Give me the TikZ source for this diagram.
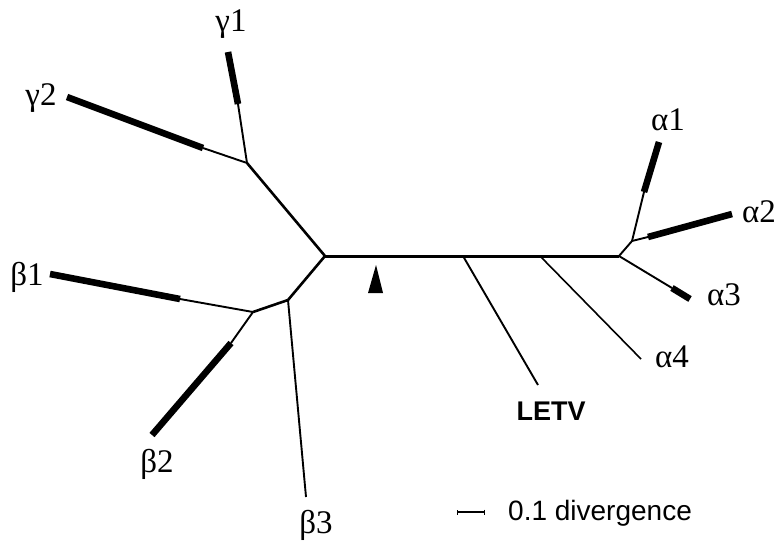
\documentclass[tikz,border=0pt]{standalone}
\usepackage{fontspec}
\setmainfont{Liberation Serif}
\setsansfont{Liberation Sans}
\usetikzlibrary{arrows.meta,positioning}
\tikzset{
  thinbr/.style={line width=1.9pt, line join=round},
  midbr/.style={line width=2.6pt, line join=round},
  mainbr/.style={line width=3pt},
  thickbr/.style={line width=6.6pt},
  taxon/.style={font=\fontsize{33}{33}\selectfont, inner sep=0pt, anchor=base},
  virus/.style={font=\sffamily\bfseries\fontsize{27}{27}\selectfont, inner sep=0pt, anchor=base},
  legendtext/.style={font=\sffamily\fontsize{28}{28}\selectfont, inner sep=0pt, anchor=base west},
  legendbar/.style={{Bar[width=5pt,line width=1pt]}-{Bar[width=5pt,line width=1pt]}, line width=2.6pt}
}
\begin{document}
\begin{tikzpicture}[x=1pt,y=-1pt]
  \useasboundingbox (0,0) rectangle (778,542);
  % inner nodes
  \coordinate (lnode) at (325,256);
  \coordinate (rnode) at (619,256);
  \coordinate (gnode) at (247,163);
  \coordinate (bnodeA) at (288,300);
  \coordinate (bnodeB) at (253,312);
  \coordinate (anode) at (632,241);
  \coordinate (letvj) at (463,256);
  \coordinate (afourj) at (540,256);
  % tips
  \coordinate (gone) at (228,52);    \coordinate (gonem) at (238,104);
  \coordinate (gtwo) at (67,97);     \coordinate (gtwom) at (203,148);
  \coordinate (bone) at (50,274);    \coordinate (bonem) at (180,299);
  \coordinate (btwo) at (152,435);   \coordinate (btwom) at (231,343);
  \coordinate (bthree) at (306,497);
  \coordinate (aone) at (659,142);   \coordinate (aonem) at (644,192);
  \coordinate (atwo) at (732,214);   \coordinate (atwom) at (648,237);
  \coordinate (athree) at (690,299); \coordinate (athreem) at (672,288);
  \coordinate (afour) at (641,359);
  \coordinate (letv) at (538,385);
  % backbone
  \draw[mainbr] (lnode) -- (letvj) -- (afourj) -- (rnode);
  \draw[midbr] (gnode) -- (lnode) -- (bnodeA);
  \draw[midbr] (bnodeA) -- (bnodeB);
  \draw[thinbr] (rnode) -- (anode);
  % gamma
  \draw[thinbr] (gnode) -- (gonem);
  \draw[thickbr] (gonem) -- (gone);
  \draw[thinbr] (gnode) -- (gtwom);
  \draw[thickbr] (gtwom) -- (gtwo);
  % beta
  \draw[thinbr] (bnodeB) -- (bonem);
  \draw[thickbr] (bonem) -- (bone);
  \draw[thinbr] (bnodeB) -- (btwom);
  \draw[thickbr] (btwom) -- (btwo);
  \draw[thinbr] (bnodeA) -- (bthree);
  % alpha
  \draw[thinbr] (anode) -- (aonem);
  \draw[thickbr] (aonem) -- (aone);
  \draw[thinbr] (anode) -- (atwom);
  \draw[thickbr] (atwom) -- (atwo);
  \draw[thinbr] (rnode) -- (athreem);
  \draw[thickbr] (athreem) -- (athree);
  \draw[line width=1.6pt] (afourj) -- (afour);
  \draw[thinbr] (letvj) -- (letv);
  % root marker
  \fill (376,265) -- (383,293) -- (368,293) -- cycle;
  % labels
  \node[taxon] (lgone) at (231,31) {γ1};
  \node[taxon] (lgtwo) at (41,105) {γ2};
  \node[taxon] (lbone) at (27,285) {β1};
  \node[taxon] (lbtwo) at (157,472) {β2};
  \node[taxon] (lbthree) at (316,533) {β3};
  \node[taxon] (laone) at (668,130) {α1};
  \node[taxon] (latwo) at (759,222) {α2};
  \node[taxon] (lathree) at (724,305) {α3};
  \node[taxon] (lafour) at (672,367) {α4};
  \node[virus] (lletv) at (551,420) {LETV};
  % scale
  \coordinate (sbarA) at (457,512);
  \coordinate (sbarB) at (485,512);
  \draw[legendbar] (sbarA) -- (sbarB);
  \node[legendtext] (sbtext) at (508,520) {0.1 divergence};
\end{tikzpicture}
\end{document}
